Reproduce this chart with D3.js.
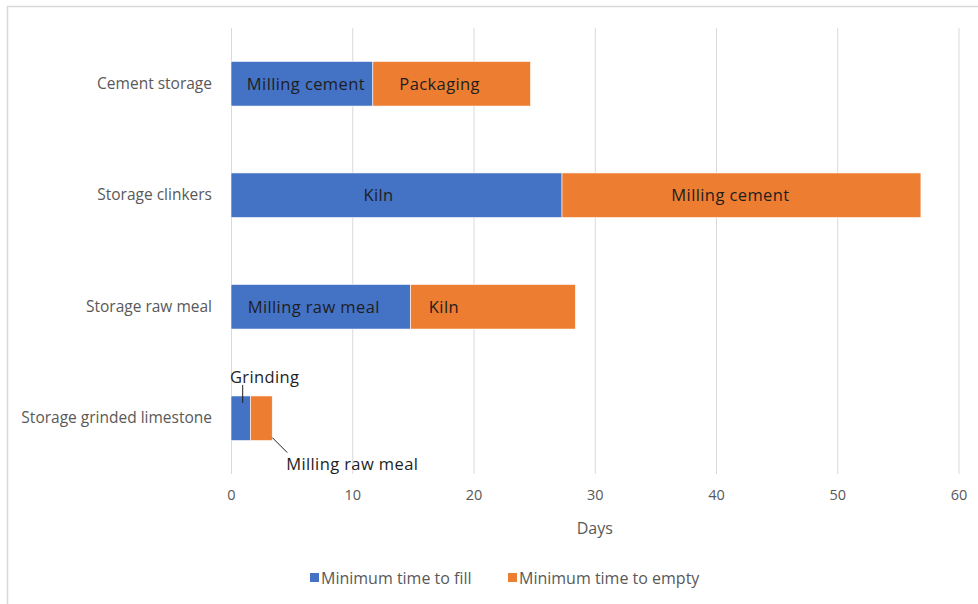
<!DOCTYPE html>
<html>
<head>
<meta charset="utf-8">
<script src="https://cdn.jsdelivr.net/npm/d3@7"></script>
<style>
  html, body { margin: 0; padding: 0; background: #fff; }
  svg { display: block; }
  text { font-family: "Open Sans", "Liberation Sans", sans-serif; }
</style>
</head>
<body>
<svg id="chart" width="978" height="604"></svg>
<script>
// Storage stages, top to bottom
const categories = ["Cement storage", "Storage clinkers", "Storage raw meal", "Storage grinded limestone"];
// Days for each phase
const fillDays  = [11.7, 27.3, 14.8, 1.6];
const emptyDays = [13.0, 29.6, 13.6, 1.8];
// Process feeding / drawing from each storage
const fillLabels  = ["Milling cement", "Kiln", "Milling raw meal", "Grinding"];
const emptyLabels = ["Packaging", "Milling cement", "Kiln", "Milling raw meal"];
const seriesNames = ["Minimum time to fill", "Minimum time to empty"];
const xTicks = [0, 10, 20, 30, 40, 50, 60];
const xTitle = "Days";

const colors = ["#4472C4", "#ED7D31"];
const svg = d3.select("#chart");

// outer frame
svg.append("rect").attr("x", 7.5).attr("y", 6.5).attr("width", 1000).attr("height", 700)
  .attr("fill", "none").attr("stroke", "#d9d9d9").attr("stroke-width", 1.5);

const x = d3.scaleLinear().domain([0, 60]).range([231, 958.5]);
const y = d3.scaleBand().domain(categories).range([28, 474]).paddingInner(0.6).paddingOuter(0.3);

// vertical gridlines
svg.append("g").selectAll("line").data(xTicks).join("line")
  .attr("x1", d => x(d) + 0.5).attr("x2", d => x(d) + 0.5)
  .attr("y1", 28).attr("y2", 474)
  .attr("stroke", "#d9d9d9").attr("stroke-width", 1);

// x axis tick labels
const xAxis = d3.axisBottom(x).tickValues(xTicks).tickSize(0).tickPadding(0);
const gx = svg.append("g").attr("transform", "translate(0,490)").call(xAxis);
gx.select(".domain").remove();
gx.selectAll("text").attr("fill", "#595959").attr("font-size", 14.5)
  .style("font-family", "'Open Sans', sans-serif");

svg.append("text").attr("x", x(30)).attr("y", 534).attr("text-anchor", "middle")
  .attr("fill", "#595959").attr("font-size", 16).text(xTitle);

// category labels
const yAxis = d3.axisLeft(y).tickSize(0).tickPadding(0);
const gy = svg.append("g").attr("transform", "translate(212,0)").call(yAxis);
gy.select(".domain").remove();
gy.selectAll("text").attr("fill", "#595959").attr("font-size", 15.5)
  .style("font-family", "'Open Sans', sans-serif");

// stacked bars
const rows = categories.map((c, i) => ({
  cat: c, fill: fillDays[i], empty: emptyDays[i],
  fillLabel: fillLabels[i], emptyLabel: emptyLabels[i]
}));

const bars = svg.append("g");
bars.selectAll("rect.fill").data(rows).join("rect").attr("class", "fill")
  .attr("x", x(0)).attr("y", d => y(d.cat))
  .attr("width", d => x(d.fill) - x(0)).attr("height", y.bandwidth())
  .attr("fill", colors[0]).attr("stroke", "#fff").attr("stroke-width", 0.6);
bars.selectAll("rect.empty").data(rows).join("rect").attr("class", "empty")
  .attr("x", d => x(d.fill)).attr("y", d => y(d.cat))
  .attr("width", d => x(d.fill + d.empty) - x(d.fill)).attr("height", y.bandwidth())
  .attr("fill", colors[1]).attr("stroke", "#fff").attr("stroke-width", 0.6);

// in-bar labels (last row is labelled outside with leader lines)
const fillShift  = [4, -18, -7];
const emptyShift = [-12, -11, -49];
const inner = rows.slice(0, 3);
const lab = svg.append("g").attr("font-size", 16.5).attr("letter-spacing", 0.4)
  .attr("fill", "#1e1e1e").attr("text-anchor", "middle");
lab.selectAll("text.fl").data(inner).join("text").attr("class", "fl")
  .attr("x", (d, i) => (x(0) + x(d.fill)) / 2 + fillShift[i])
  .attr("y", d => y(d.cat) + y.bandwidth() / 2).attr("dy", "0.35em")
  .text(d => d.fillLabel);
lab.selectAll("text.el").data(inner).join("text").attr("class", "el")
  .attr("x", (d, i) => (x(d.fill) + x(d.fill + d.empty)) / 2 + emptyShift[i])
  .attr("y", d => y(d.cat) + y.bandwidth() / 2).attr("dy", "0.35em")
  .text(d => d.emptyLabel);

// small bar: callout labels
const last = rows[3];
const barTop = y(last.cat), barBot = barTop + y.bandwidth();
const fx = (x(0) + x(last.fill)) / 2 + 2;
svg.append("line").attr("x1", fx).attr("x2", fx).attr("y1", barTop - 11).attr("y2", barTop + 7)
  .attr("stroke", "#1e1e1e").attr("stroke-width", 1);
lab.append("text").attr("x", fx + 22).attr("y", barTop - 19).attr("dy", "0.35em").text(last.fillLabel);
const ex = x(last.fill + last.empty);
svg.append("line").attr("x1", ex).attr("x2", ex + 15).attr("y1", barBot - 3).attr("y2", barBot + 12)
  .attr("stroke", "#1e1e1e").attr("stroke-width", 1);
lab.append("text").attr("x", ex + 80).attr("y", barBot + 24).attr("dy", "0.35em").text(last.emptyLabel);

// legend
const legendX = [310, 508];
const lg = svg.append("g");
seriesNames.forEach((name, i) => {
  lg.append("rect").attr("x", legendX[i]).attr("y", 573).attr("width", 9).attr("height", 9).attr("fill", colors[i]);
  lg.append("text").attr("x", legendX[i] + 11).attr("y", 578).attr("dy", "0.35em")
    .attr("font-size", 16).attr("fill", "#595959").text(name);
});
</script>
</body>
</html>
